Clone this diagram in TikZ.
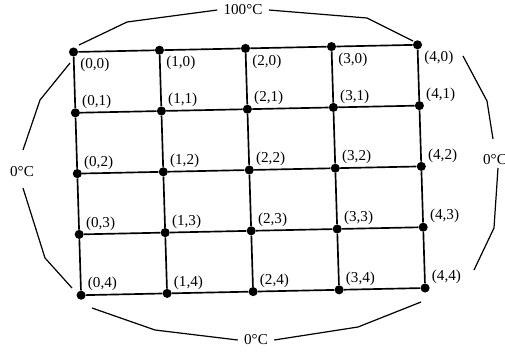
\documentclass[tikz,border=0pt]{standalone}
\usepackage{fontspec}
\setmainfont{Liberation Serif}
\usetikzlibrary{calc}

\begin{document}
\begin{tikzpicture}[x=0.66pt, y=-0.66pt,
  dot/.style={circle, fill, inner sep=0pt, minimum size=6pt},
  lbl/.style={anchor=west, inner sep=1pt},
  temp/.style={inner sep=4pt},
  mesh/.style={line width=1.1pt},
  bound/.style={line width=0.8pt}]
\useasboundingbox (0,0) rectangle (505,351);
% mesh points (i = column, j = row)
\foreach \i in {0,...,4}
  \foreach \j in {0,...,4}
    \node[dot] (n\i\j) at ({73.5+86*\i+1.9*\j},{52-1.8*\i+60.8*\j}) {};
\foreach \i in {0,...,4}
  \foreach \j [count=\k] in {0,...,3}
    \draw[mesh] (n\i\j) -- (n\i\k);
\foreach \j in {0,...,4}
  \foreach \i [count=\k] in {0,...,3}
    \draw[mesh] (n\i\j) -- (n\k\j);
% point labels
\foreach \i in {0,...,4}{
  \node[lbl] (l\i0) at ($(n\i0)+(5,13)$) {(\i,0)};
  \foreach \j in {1,...,4}
    \node[lbl] (l\i\j) at ($(n\i\j)+(5,-11)$) {(\i,\j)};
}
% boundary temperatures
\node[temp] (hot) at (243,10) {100°C};
\node[temp] (coldL) at (22,172) {0°C};
\node[temp] (coldR) at (495,160) {0°C};
\node[temp] (coldB) at (256,340) {0°C};
\coordinate (t1) at (79,45); \coordinate (t2) at (127,22);
\coordinate (t3) at (413,41); \coordinate (t4) at (367,18);
\coordinate (w1) at (70,63); \coordinate (w2) at (40,100); \coordinate (w3) at (23,150);
\coordinate (w4) at (23,188); \coordinate (w5) at (45,258); \coordinate (w6) at (72,288);
\coordinate (e1) at (463,56); \coordinate (e2) at (487,101); \coordinate (e3) at (493,139);
\coordinate (e4) at (498,168); \coordinate (e5) at (494,228); \coordinate (e6) at (474,270);
\coordinate (s1) at (92,308); \coordinate (s2) at (155,330);
\coordinate (s3) at (421,302); \coordinate (s4) at (358,327);
\draw[bound] (t1) -- (t2) -- (hot.west);
\draw[bound] (hot.east) -- (t4) -- (t3);
\draw[bound] (w1) -- (w2) -- (w3);
\draw[bound] (w4) -- (w5) -- (w6);
\draw[bound] (e1) -- (e2) -- (e3);
\draw[bound] (e4) -- (e5) -- (e6);
\draw[bound] (s1) -- (s2) -- (coldB.west);
\draw[bound] (s3) -- (s4) -- (coldB.east);
\end{tikzpicture}
\end{document}
